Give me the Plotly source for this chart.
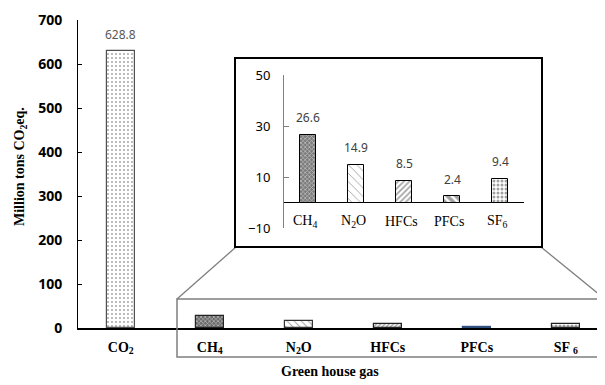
import plotly.graph_objects as go

# ---- data ----
gases = ["CO2", "CH4", "N2O", "HFCs", "PFCs", "SF6"]
emissions = [628.8, 26.6, 14.9, 8.5, 2.4, 9.4]
main_tick_labels = ["CO<sub>2</sub>", "CH<sub>4</sub>", "N<sub>2</sub>O", "HFCs", "PFCs", "SF <sub>6</sub>"]
inset_tick_labels = ["CH<sub>4</sub>", "N<sub>2</sub>O", "HFCs", "PFCs", "SF<sub>6</sub>"]
main_y_ticks = [0, 100, 200, 300, 400, 500, 600, 700]
inset_y_ticks = [-10, 10, 30, 50]
inset_values = emissions[1:]

OFF = 8  # page body margin
W, H = 605 - OFF, 385 - OFF
ML, MR, MT, MB = 78 - OFF, 0, 20 - OFF, 57
PW = W - ML - MR
PH = H - MT - MB


def px(x):
    return (x - OFF - ML) / PW


def py(y):
    return (H - MB - (y - OFF)) / PH


serif = "Liberation Serif"
sans = "Noto Sans"

main_x = list(range(len(gases)))
inset_x = list(range(len(inset_values)))

fig = go.Figure()

# main bars
fig.add_trace(go.Bar(
    x=main_x, y=emissions, width=0.31,
    marker=dict(
        color=["#ffffff", "#6a6a6a", "#ffffff", "#ffffff", "#4f6f9f", "#ffffff"],
        line=dict(color=["#505050", "#222222", "#333333", "#222222", "#2f4f7f", "#222222"], width=1.2),
        pattern=dict(
            shape=[".", "x", "\\", "/", "", "."],
            fgcolor=["#8a8a8a", "#111111", "#777777", "#111111", "#4f6f9f", "#111111"],
            size=[4, 3, 5, 3, 4, 4],
            solidity=[0.18, 0.45, 0.2, 0.5, 0.3, 0.5],
            fillmode="overlay",
        ),
    ),
    xaxis="x", yaxis="y", showlegend=False, hoverinfo="skip",
))

# inset bars
fig.add_trace(go.Bar(
    x=inset_x, y=inset_values, width=0.33,
    marker=dict(
        color=["#7a7a7a", "#ffffff", "#ffffff", "#ffffff", "#ffffff"],
        line=dict(color="#000000", width=1),
        pattern=dict(
            shape=["x", "\\", "/", "\\", "."],
            fgcolor=["#111111", "#555555", "#111111", "#000000", "#111111"],
            size=[3, 6, 4, 6, 4],
            solidity=[0.45, 0.15, 0.4, 0.6, 0.45],
            fillmode="overlay",
        ),
    ),
    xaxis="x2", yaxis="y2", showlegend=False, hoverinfo="skip",
))

annotations = []
# value label on CO2 bar
annotations.append(dict(
    x=main_x[0], y=emissions[0], xref="x", yref="y", text=f"{emissions[0]:.1f}",
    showarrow=False, yshift=17, yanchor="middle",
    font=dict(family=sans, size=12, color="#595959"),
))
# inset value labels
for xi, v in zip(inset_x, inset_values):
    annotations.append(dict(
        x=xi, y=v, xref="x2", yref="y2", text=f"{v:.1f}",
        showarrow=False, yshift=17, yanchor="middle",
        font=dict(family=sans, size=12, color="#404040"),
    ))
# inset category labels
for xi, lab in zip(inset_x, inset_tick_labels):
    annotations.append(dict(
        x=xi, y=-7.3, xref="x2", yref="y2", text=lab,
        showarrow=False, yanchor="middle", xshift=-3,
        font=dict(family=serif, size=14, color="#000000"),
    ))
# axis titles
annotations.append(dict(
    x=px(330), y=py(371), xref="paper", yref="paper", text="Green house gas",
    showarrow=False, xanchor="center", yanchor="middle",
    font=dict(family=serif, size=14, color="#000000", weight="bold"),
))
annotations.append(dict(
    x=px(20), y=py(167), xref="paper", yref="paper", text="Million tons CO<sub>2</sub>eq.",
    showarrow=False, xanchor="center", yanchor="middle", textangle=-90,
    font=dict(family=serif, size=14, color="#000000", weight="bold"),
))

shapes = [
    # zoom box
    dict(type="rect", xref="paper", yref="paper",
         x0=px(177), x1=px(607), y0=py(357), y1=py(299),
         line=dict(color="#7f7f7f", width=1.5), fillcolor="rgba(0,0,0,0)"),
    # connectors
    dict(type="line", xref="paper", yref="paper",
         x0=px(177), y0=py(299), x1=px(236), y1=py(247),
         line=dict(color="#7f7f7f", width=1.3)),
    dict(type="line", xref="paper", yref="paper",
         x0=px(541), y0=py(247), x1=px(606), y1=py(300),
         line=dict(color="#7f7f7f", width=1.3)),
    # inset border
    dict(type="rect", xref="paper", yref="paper",
         x0=px(235), x1=px(542), y0=py(247), y1=py(58),
         line=dict(color="#000000", width=2), fillcolor="rgba(0,0,0,0)"),
]

fig.update_layout(
    width=W, height=H,
    margin=dict(l=ML, r=MR, t=MT, b=MB, pad=0),
    paper_bgcolor="#ffffff", plot_bgcolor="rgba(0,0,0,0)",
    bargap=0,
    xaxis=dict(
        domain=[0, 1], range=[-0.48, 5.44],
        tickvals=main_x, ticktext=main_tick_labels,
        showline=True, linecolor="#000000", linewidth=1.5,
        ticks="", showgrid=False, zeroline=False,
        ticklabelstandoff=5,
        tickfont=dict(family=serif, size=14, color="#000000", weight="bold"),
    ),
    yaxis=dict(
        domain=[0, 1], range=[0, 700],
        tickvals=main_y_ticks,
        showline=True, linecolor="#000000", linewidth=1,
        ticks="inside", ticklen=4, tickcolor="#000000",
        showgrid=False, zeroline=False,
        ticklabelstandoff=12,
        tickfont=dict(family=sans, size=14, color="#000000", weight="bold"),
    ),
    xaxis2=dict(
        domain=[px(284), px(524)], range=[-0.5, 4.5], anchor="y2",
        showline=False, showticklabels=False, ticks="", showgrid=False, zeroline=False,
    ),
    yaxis2=dict(
        domain=[py(228), py(75)], range=[-10, 50], anchor="x2",
        tickvals=inset_y_ticks,
        showline=True, linecolor="#808080", linewidth=1,
        ticks="inside", ticklen=5, tickcolor="#808080",
        showgrid=False,
        zeroline=True, zerolinecolor="#000000", zerolinewidth=1,
        ticklabelstandoff=10,
        tickfont=dict(family=sans, size=13, color="#000000"),
    ),
    annotations=annotations,
    shapes=shapes,
)

fig.write_html("out.html")
